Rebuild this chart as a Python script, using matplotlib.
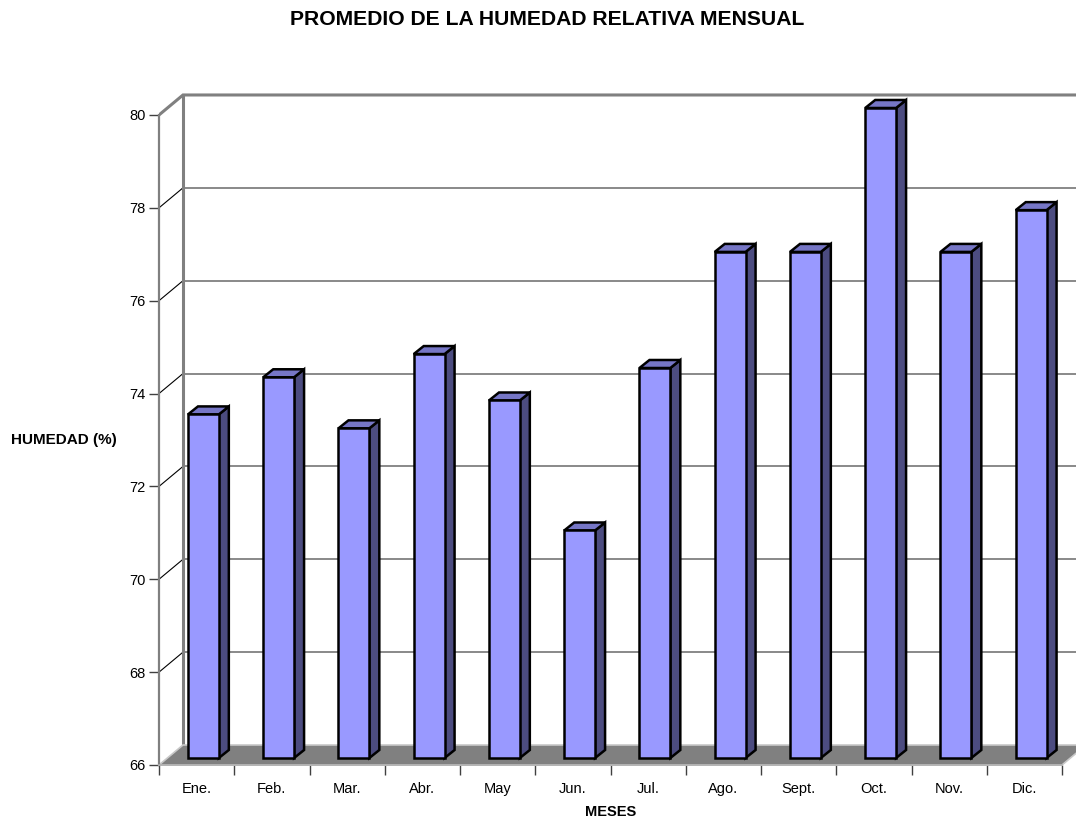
import matplotlib.pyplot as plt
from matplotlib.patches import Polygon

plt.rcParams['font.family'] = ['Liberation Sans', 'DejaVu Sans']

# data
meses = ['Ene.', 'Feb.', 'Mar.', 'Abr.', 'May', 'Jun.', 'Jul.', 'Ago.',
         'Sept.', 'Oct.', 'Nov.', 'Dic.']
humedad = [73.4, 74.2, 73.1, 74.7, 73.7, 70.9, 74.4, 76.9, 76.9, 80.0, 76.9, 77.8]
y_ticks = [66, 68, 70, 72, 74, 76, 78, 80]

W, H = 1076, 818
px_x = 75.25   # pixels per category
px_y = 46.43   # pixels per % unit

fig = plt.figure(figsize=(W / 100, H / 100), dpi=100)
ax = fig.add_axes([159 / W, (H - 765) / H, (W - 159) / W, 14.5 * px_y / H])
ax.set_xlim(0, (W - 159) / px_x)
ax.set_ylim(66, 80.5)

ymin, ymax = y_ticks[0], y_ticks[-1]
n = len(meses)

# depth of the 3d box (walls) and of the bars, in data units
DX, DY = 24 / px_x, 20 / px_y
bx0, by0 = 0.09, 7 / px_y
bdx, bdy = 10 / px_x, 8 / px_y
bar_w = 0.41

gray = '#808080'

# walls
ax.add_patch(Polygon([(0, ymin), (DX, ymin + DY), (DX, ymax + DY), (0, ymax)],
                     closed=True, facecolor='white', edgecolor='none', zorder=0))

# floor
ax.add_patch(Polygon([(0, ymin), (n, ymin), (n + DX, ymin + DY), (DX, ymin + DY)],
                     closed=True, facecolor=gray, edgecolor='#c8c8c8', lw=1.2,
                     zorder=2, clip_on=False))

# gridlines on back wall + diagonals on side wall
for v in y_ticks[1:-1]:
    ax.plot([DX, n + 2], [v + DY, v + DY], color=gray, lw=1.3, zorder=1)
    ax.plot([0, DX], [v, v + DY], color='black', lw=0.8, zorder=1)

# wall edges
ax.plot([0, DX, n + 2], [ymax, ymax + DY, ymax + DY], color=gray, lw=2.2, zorder=1,
        solid_joinstyle='miter')
ax.plot([DX, DX], [ymin + DY, ymax + DY], color=gray, lw=2.2, zorder=1)

# bars
for i, v in enumerate(humedad):
    x0 = i + 0.5 - bar_w / 2 + bx0
    x1 = x0 + bar_w
    y0 = ymin + by0
    y1 = v + by0
    side = [(x1, y0), (x1 + bdx, y0 + bdy), (x1 + bdx, y1 + bdy), (x1, y1)]
    top = [(x0, y1), (x1, y1), (x1 + bdx, y1 + bdy), (x0 + bdx, y1 + bdy)]
    front = [(x0, y0), (x1, y0), (x1, y1), (x0, y1)]
    for pts, col in [(side, '#4C4C80'), (top, '#7676C6'), (front, '#9999FF')]:
        ax.add_patch(Polygon(pts, closed=True, facecolor=col, edgecolor='black',
                             lw=1.8, joinstyle='miter', zorder=3, clip_on=False))

# axes
for s in ['top', 'right']:
    ax.spines[s].set_visible(False)
ax.spines['left'].set_bounds(ymin, ymax)
ax.spines['left'].set_color(gray)
ax.spines['left'].set_linewidth(1.6)
ax.spines['bottom'].set_bounds(0, n)
ax.spines['bottom'].set_color('#b0b0b0')
ax.spines['bottom'].set_linewidth(1.2)
ax.spines['bottom'].set_zorder(2.5)

ax.set_yticks(y_ticks)
ax.set_yticklabels([str(t) for t in y_ticks])
ax.tick_params(axis='y', direction='out', length=7.5, width=1, color='#404040',
               labelsize=10.5, pad=2)

ax.set_xticks(range(n + 1))
ax.set_xticklabels([])
ax.set_xticks([i + 0.5 for i in range(n)], minor=True)
ax.set_xticklabels(meses, minor=True)
ax.tick_params(axis='x', which='major', direction='out', length=7.5, width=1,
               color='#404040')
ax.tick_params(axis='x', which='minor', length=0, labelsize=10.5, pad=12)

fig.text(547.5 / W, 1 - 19.5 / H, 'PROMEDIO DE LA HUMEDAD RELATIVA MENSUAL',
         ha='center', va='center', fontsize=15.2, fontweight='bold')
fig.text(63.5 / W, 1 - 440 / H, 'HUMEDAD (%)', ha='center', va='center',
         fontsize=11, fontweight='bold')
fig.text(610.5 / W, 1 - 811.5 / H, 'MESES', ha='center', va='center',
         fontsize=10.5, fontweight='bold')

fig.savefig('out.png', dpi=100)
